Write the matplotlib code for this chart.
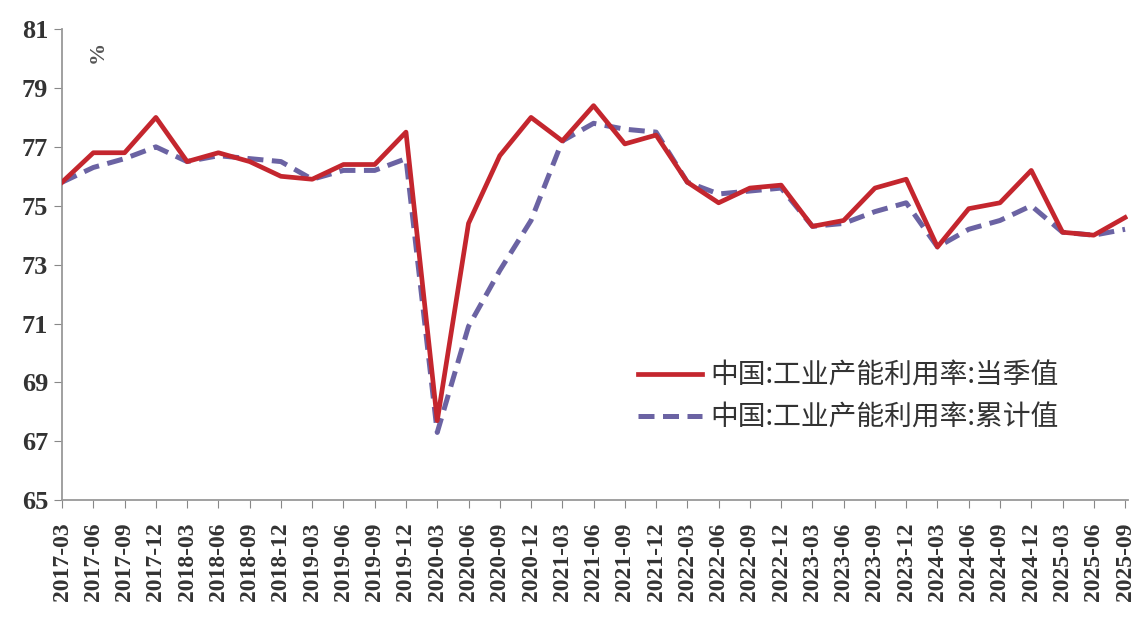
import matplotlib
matplotlib.use("Agg")
import matplotlib.pyplot as plt

# quarterly capacity utilisation, %
quarters = [
    "2017-03", "2017-06", "2017-09", "2017-12",
    "2018-03", "2018-06", "2018-09", "2018-12",
    "2019-03", "2019-06", "2019-09", "2019-12",
    "2020-03", "2020-06", "2020-09", "2020-12",
    "2021-03", "2021-06", "2021-09", "2021-12",
    "2022-03", "2022-06", "2022-09", "2022-12",
    "2023-03", "2023-06", "2023-09", "2023-12",
    "2024-03", "2024-06", "2024-09", "2024-12",
    "2025-03", "2025-06", "2025-09",
]
current = [
    75.8, 76.8, 76.8, 78.0,
    76.5, 76.8, 76.5, 76.0,
    75.9, 76.4, 76.4, 77.5,
    67.7, 74.4, 76.7, 78.0,
    77.2, 78.4, 77.1, 77.4,
    75.8, 75.1, 75.6, 75.7,
    74.3, 74.5, 75.6, 75.9,
    73.6, 74.9, 75.1, 76.2,
    74.1, 74.0, 74.6,
]
cumulative = [
    75.8, 76.3, 76.6, 77.0,
    76.5, 76.7, 76.6, 76.5,
    75.9, 76.2, 76.2, 76.6,
    67.3, 70.9, 72.8, 74.5,
    77.2, 77.8, 77.6, 77.5,
    75.8, 75.4, 75.5, 75.6,
    74.3, 74.4, 74.8, 75.1,
    73.6, 74.2, 74.5, 75.0,
    74.1, 74.0, 74.2,
]
yticks = [65, 67, 69, 71, 73, 75, 77, 79, 81]

label_cur = "中国:工业产能利用率:当季值"
label_cum = "中国:工业产能利用率:累计值"

plt.rcParams["font.family"] = ["Liberation Serif", "Noto Sans CJK SC"]

fig = plt.figure(figsize=(11.39, 6.19), dpi=100)
ax = fig.add_axes([0.0545, 0.192, 0.936, 0.761])

x = list(range(len(quarters)))
ax.plot(x, current, color="#c4262e", lw=3.4, solid_joinstyle="round",
        label=label_cur, zorder=3)
ax.plot(x, cumulative, color="#6b63a3", lw=3.6, ls=(0, (3.2, 1.7)),
        label=label_cum, zorder=2)

ax.set_xlim(0, len(quarters) - 1 + 0.1)
ax.set_ylim(65, 81)
ax.set_yticks(yticks)
ax.set_yticklabels([str(v) for v in yticks], fontsize=19, fontweight="bold",
                   color="#333333")
ax.set_xticks(x)
ax.set_xticklabels(quarters, rotation=90, fontsize=17, fontweight="bold",
                   color="#333333")
ax.tick_params(axis="y", length=6, color="#888888", pad=4)
ax.tick_params(axis="x", length=6, color="#888888", pad=10)

for side in ("top", "right"):
    ax.spines[side].set_visible(False)
for side in ("left", "bottom"):
    ax.spines[side].set_color("#999999")
    ax.spines[side].set_linewidth(1.3)

ax.text(0.033, 0.975, "%", transform=ax.transAxes, rotation=90,
        fontsize=16, fontweight="bold", color="#555555", ha="center", va="top")

leg = ax.legend(loc="upper left", bbox_to_anchor=(0.517, 0.35), frameon=False,
                handlelength=2.3, handletextpad=0.3, labelspacing=0.45,
                prop={"family": ["Noto Sans CJK SC"], "size": 20})
for t in leg.get_texts():
    t.set_color("#333333")

fig.savefig("out.png", dpi=100)
